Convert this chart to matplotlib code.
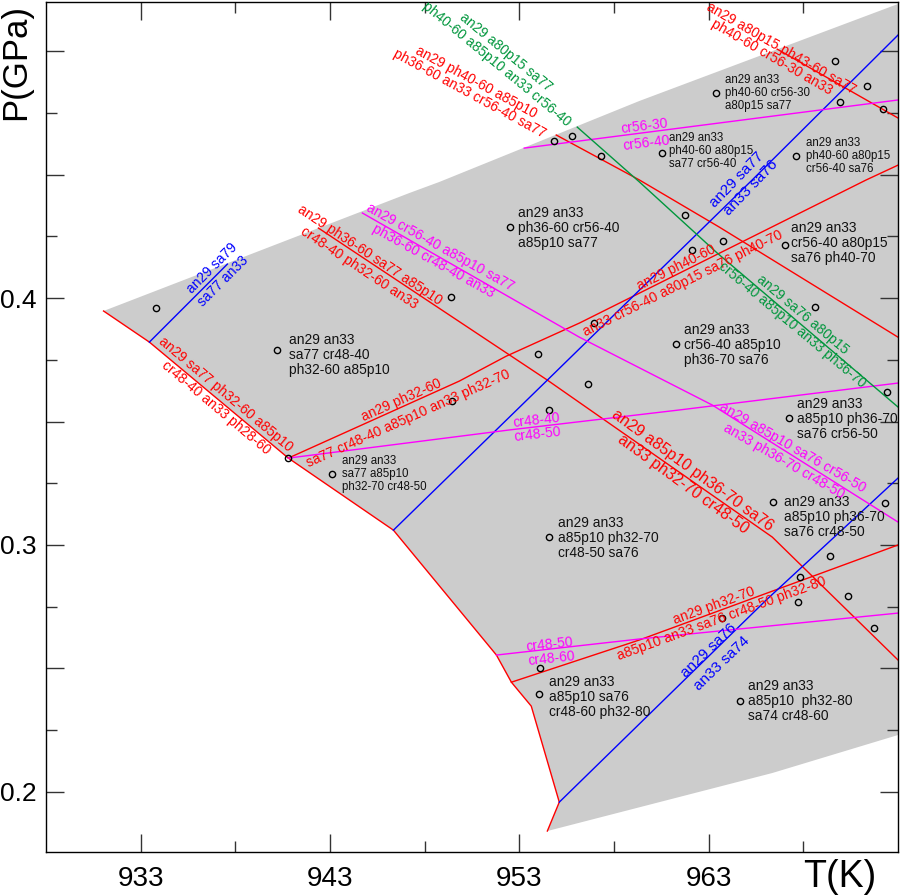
import matplotlib.pyplot as plt
from matplotlib.ticker import FixedLocator, FuncFormatter

plt.rcParams['font.family'] = ['Liberation Sans', 'DejaVu Sans']

# grey stability field outline (T in K, P in GPa)
field_T = [931.04, 947.19, 948.78, 959.34, 973.0, 973.0, 966.36, 954.48,
           955.11, 953.63, 952.58, 951.79, 946.35, 940.80, 933.46]
field_P = [0.3948, 0.4426, 0.4471, 0.4799, 0.5192, 0.2230, 0.2076, 0.1841,
           0.1958, 0.2347, 0.2444, 0.2554, 0.3060, 0.3352, 0.3822]

# red reaction lines
red_edge_T = [931.04, 933.46, 940.80, 946.35, 951.79, 952.58, 953.63, 955.11, 954.48]
red_edge_P = [0.3948, 0.3822, 0.3352, 0.3060, 0.2554, 0.2444, 0.2347, 0.1958, 0.1841]
red_ph40_T = [940.80, 949.83, 952.31, 956.17, 971.32, 973.0]
red_ph40_P = [0.3352, 0.3664, 0.3765, 0.3899, 0.4479, 0.4539]
red_ph36_T = [942.39, 954.48, 966.36, 973.0]
red_ph36_P = [0.4284, 0.3668, 0.3032, 0.2534]
red_ph32_T = [952.58, 959.34, 973.0]
red_ph32_P = [0.2444, 0.2615, 0.3000]
red_cr56_T = [954.95, 959.34, 963.56, 973.0]
red_cr56_P = [0.4661, 0.4479, 0.4288, 0.3842]
red_ph43_T = [966.62, 973.0]
red_ph43_P = [0.5009, 0.4730]

# blue reaction lines
blue_sa79_T = [933.46, 937.58]
blue_sa79_P = [0.3822, 0.4138]
blue_sa77_T = [946.35, 954.48, 965.30, 973.0]
blue_sa77_P = [0.3060, 0.3668, 0.4479, 0.5066]
blue_sa74_T = [955.11, 966.04, 973.0]
blue_sa74_P = [0.1958, 0.2777, 0.3271]

# magenta reaction lines
mag_cr56_T = [944.71, 956.17, 963.19, 973.0]
mag_cr56_P = [0.4345, 0.3842, 0.3567, 0.3093]
mag_cr4850_T = [940.80, 952.47, 961.45, 973.0]
mag_cr4850_P = [0.3352, 0.3466, 0.3547, 0.3656]
mag_cr5630_T = [953.26, 973.0]
mag_cr5630_P = [0.4608, 0.4803]
mag_cr4860_T = [951.79, 959.34, 973.0]
mag_cr4860_P = [0.2554, 0.2619, 0.2724]

# green reaction line
green_T = [956.06, 959.34, 963.45, 973.0]
green_P = [0.4693, 0.4471, 0.4183, 0.3559]

# calculated points
pts_T = [933.83, 940.22, 940.80, 943.13, 949.41, 952.52, 954.00, 949.46, 956.64,
         954.58, 954.58, 954.11, 954.06, 964.67, 963.72, 967.73, 971.74, 970.37,
         969.42, 967.84, 972.32, 966.41, 967.26, 972.43, 968.63, 967.04, 963.77,
         962.13, 961.76, 956.96, 961.29, 954.85, 955.80, 957.33, 960.55, 969.68,
         971.37, 969.95, 972.22, 963.40, 967.63]
pts_P = [0.3960, 0.3790, 0.3352, 0.3287, 0.4004, 0.4288, 0.3774, 0.3583, 0.3652,
         0.3547, 0.3032, 0.2501, 0.2396, 0.2368, 0.2704, 0.2769, 0.2663, 0.2793,
         0.2955, 0.2870, 0.3170, 0.3174, 0.3514, 0.3620, 0.3964, 0.4215, 0.4231,
         0.4195, 0.4337, 0.3899, 0.3814, 0.4637, 0.4657, 0.4576, 0.4588, 0.4961,
         0.4860, 0.4795, 0.4766, 0.4831, 0.4576]

# field assemblages
field_names = [
    "an29 an33\nsa77 cr48-40\nph32-60 a85p10",
    "an29 an33\nsa77 a85p10\nph32-70 cr48-50",
    "an29 an33\nph36-60 cr56-40\na85p10 sa77",
    "an29 an33\nph40-60 a80p15\nsa77 cr56-40",
    "an29 an33\nph40-60 cr56-30\na80p15 sa77",
    "an29 an33\nph40-60 a80p15\ncr56-40 sa76",
    "an29 an33\ncr56-40 a80p15\nsa76 ph40-70",
    "an29 an33\ncr56-40 a85p10\nph36-70 sa76",
    "an29 an33\na85p10 ph36-70\nsa76 cr56-50",
    "an29 an33\na85p10 ph36-70\nsa76 cr48-50",
    "an29 an33\na85p10 ph32-70\ncr48-50 sa76",
    "an29 an33\na85p10 sa76\ncr48-60 ph32-80",
    "an29 an33\na85p10  ph32-80\nsa74 cr48-60",
]
field_lab_T = [940.86, 943.65, 952.95, 960.92, 963.88, 968.15, 967.36, 961.71,
               967.68, 966.99, 955.06, 954.58, 965.09]
field_lab_P = [0.3770, 0.3287, 0.4284, 0.4596, 0.4831, 0.4576, 0.4223, 0.3810,
               0.3510, 0.3113, 0.3028, 0.2384, 0.2368]
field_small = [False, True, False, True, True, True, False, False,
               False, False, False, False, False]

# reaction labels: (text above line, text below line)
rx_pairs = [
    ("an29 sa79", "sa77 an33"),
    ("an29 sa77 ph32-60 a85p10", "cr48-40 an33 ph28-60"),
    ("an29 ph32-60", "sa77 cr48-40 a85p10 an33 ph32-70"),
    ("an29 ph36-60 sa77 a85p10", "cr48-40 ph32-60 an33"),
    ("an29 cr56-40 a85p10 sa77", "ph36-60 cr48-40 an33"),
    ("an29 ph40-60", "an33 cr56-40 a80p15 sa76 ph40-70"),
    ("an29 sa76 a80p15", "cr56-40 a85p10 an33 ph36-70"),
    ("an29 a85p10 sa76 cr56-50", "an33 ph36-70 cr48-50"),
    ("an29 a85p10 ph36-70 sa76", "an33 ph32-70 cr48-50"),
    ("cr48-40", "cr48-50"),
    ("cr56-30", "cr56-40"),
    ("cr48-50", "cr48-60"),
    ("an29 ph32-70", "a85p10 an33 sa76 cr48-50 ph32-80"),
    ("an29 sa76", "an33 sa74"),
    ("an29 sa77", "an33 sa76"),
    ("an29 ph40-60 a85p10", "ph36-60 an33 cr56-40 sa77"),
    ("an29 a80p15 sa77", "ph40-60 a85p10 an33 cr56-40"),
    ("an29 a80p15 ph43-60 sa77", "ph40-60 cr56-30 an33"),
]
rx_T = [(936.79, 937.37), (937.48, 937.00), (946.77, 947.14), (945.08, 944.55),
        (948.83, 948.46), (961.29, 961.66), (967.94, 967.41), (967.41, 966.99),
        (962.13, 961.66), (953.90, 953.95), (959.60, 959.71), (954.58, 954.69),
        (963.30, 963.67), (963.03, 963.67), (964.46, 965.25), (950.73, 950.36),
        (952.31, 951.79), (966.84, 966.36)]
rx_P = [(0.4122, 0.4069), (0.3611, 0.3555), (0.3587, 0.3514), (0.4175, 0.4122),
        (0.4207, 0.4150), (0.4122, 0.4061), (0.3932, 0.3891), (0.3393, 0.3340),
        (0.3304, 0.3247), (0.3506, 0.3449), (0.4697, 0.4629), (0.2598, 0.2538),
        (0.2752, 0.2700), (0.2574, 0.2521), (0.4479, 0.4446), (0.4876, 0.4827),
        (0.4997, 0.4949), (0.5010, 0.4977)]
rx_angle = [45, -40, 24, -33.5, -29, 26.5, -40, -30, -36, 6.5, 7, 6, 20,
            44, 46, -28.5, -39.5, -30]

RED, BLUE, MAG, GREEN = '#ff0000', '#0000ff', '#ff00ff', '#00963c'
rx_color = [BLUE, RED, RED, RED, MAG, RED, GREEN, MAG, RED, MAG, MAG, MAG,
            RED, BLUE, BLUE, RED, GREEN, RED]
rx_size = [10, 10, 10, 10, 10, 10, 10, 10, 11.5, 10, 10, 10, 10,
           11, 11, 10, 10, 10]

fig = plt.figure(figsize=(9, 8.96), dpi=100)
ax = fig.add_axes([46 / 900, 44 / 896, 852 / 900, 850 / 896])

ax.fill(field_T, field_P, color='#cccccc', lw=0, zorder=0)

lw = 1.0
for T, P in [(red_edge_T, red_edge_P), (red_ph40_T, red_ph40_P), (red_ph36_T, red_ph36_P),
             (red_ph32_T, red_ph32_P), (red_cr56_T, red_cr56_P), (red_ph43_T, red_ph43_P)]:
    ax.plot(T, P, color=RED, lw=lw, zorder=2)
for T, P in [(blue_sa79_T, blue_sa79_P), (blue_sa77_T, blue_sa77_P), (blue_sa74_T, blue_sa74_P)]:
    ax.plot(T, P, color=BLUE, lw=lw, zorder=2)
for T, P in [(mag_cr56_T, mag_cr56_P), (mag_cr4850_T, mag_cr4850_P),
             (mag_cr5630_T, mag_cr5630_P), (mag_cr4860_T, mag_cr4860_P)]:
    ax.plot(T, P, color=MAG, lw=lw, zorder=2)
ax.plot(green_T, green_P, color=GREEN, lw=lw, zorder=2)

ax.plot(pts_T, pts_P, 'o', mfc='none', mec='black', ms=4.5, mew=1.0, zorder=3)

for s, T, P, small in zip(field_names, field_lab_T, field_lab_P, field_small):
    ax.text(T, P, s, fontsize=8.3 if small else 9.9, ha='left', va='center',
            linespacing=1.08, color='#111111', zorder=4)

for pair, Ts, Ps, a, c, fs in zip(rx_pairs, rx_T, rx_P, rx_angle, rx_color, rx_size):
    for s, T, P in zip(pair, Ts, Ps):
        ax.text(T, P, s, fontsize=fs, color=c, rotation=a, rotation_mode='anchor',
                ha='center', va='center', zorder=4)

ax.set_xlim(928, 973)
ax.set_ylim(0.1756, 0.52)

ax.xaxis.set_major_locator(FixedLocator([933, 943, 953, 963]))
ax.xaxis.set_minor_locator(FixedLocator([938, 948, 958, 968]))
ax.yaxis.set_major_locator(FixedLocator([0.2, 0.25, 0.3, 0.35, 0.4, 0.45, 0.5]))
ax.yaxis.set_minor_locator(FixedLocator([0.225, 0.275, 0.325, 0.375, 0.425, 0.475]))
ax.yaxis.set_major_formatter(FuncFormatter(
    lambda v, p: ('%.1f' % v) if abs(v * 10 - round(v * 10)) < 1e-6 and v < 0.45 else ''))

ax.tick_params(which='both', direction='in', top=True, right=True, width=1.0, color='#333333')
ax.tick_params(which='major', length=13)
ax.tick_params(which='minor', length=8)
ax.tick_params(axis='x', which='major', labelsize=20, pad=10)
ax.tick_params(axis='y', which='major', labelsize=19, pad=7)
for sp in ax.spines.values():
    sp.set_linewidth(1.0)

fig.text(840 / 900, 1 - 877 / 896, 'T(K)', fontsize=27, ha='center', va='center')
fig.text(16 / 900, 1 - 62 / 896, 'P(GPa)', fontsize=25, rotation=90, ha='center', va='center')

fig.savefig('out.png', dpi=100)
